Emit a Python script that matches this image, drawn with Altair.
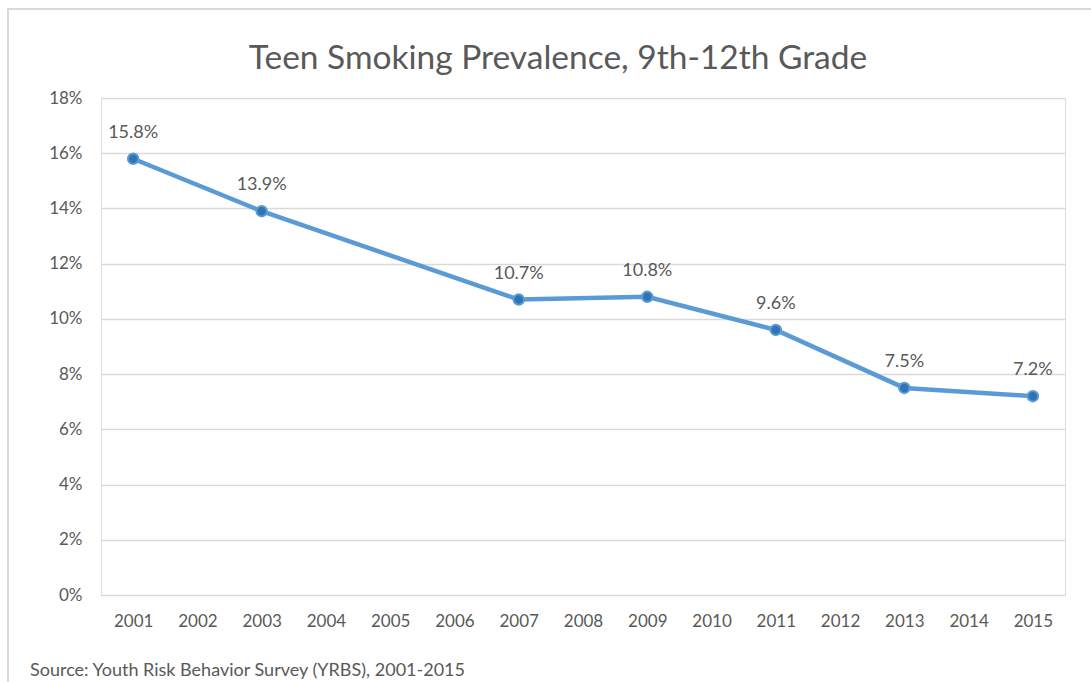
import altair as alt
import pandas as pd

title = "Teen Smoking Prevalence, 9th-12th Grade"
source = "Source: Youth Risk Behavior Survey (YRBS), 2001-2015"
all_years = [str(y) for y in range(2001, 2016)]
years = ["2001", "2003", "2007", "2009", "2011", "2013", "2015"]
prevalence = [15.8, 13.9, 10.7, 10.8, 9.6, 7.5, 7.2]
y_ticks = [0, 2, 4, 6, 8, 10, 12, 14, 16, 18]

FONT = "Lato"
TXT = "#595959"

df = pd.DataFrame({"year": years, "v": prevalence})

x = alt.X("year:O", scale=alt.Scale(domain=all_years, type="point", padding=0.5),
          axis=alt.Axis(title=None, labelAngle=0, ticks=False, domain=False, grid=False,
                        labelPadding=18, labelFontSize=17, labelColor=TXT, labelFont=FONT))
y = alt.Y("v:Q", scale=alt.Scale(domain=[0, 18], nice=False),
          axis=alt.Axis(title=None, values=y_ticks, labelExpr="datum.value + '%'",
                        ticks=False, domain=False, gridColor="#d9d9d9", gridWidth=1.5,
                        labelPadding=19, labelFontSize=17, labelColor=TXT, labelFont=FONT))

base = alt.Chart(df)
line = base.mark_line(color="#5B9BD5", strokeWidth=4.5).encode(x=x, y=y)
pts = base.mark_point(filled=True, size=110, color="#2E75B6", stroke="#5B9BD5",
                      strokeWidth=2, opacity=1).encode(x=x, y=y)
labels = base.transform_calculate(lab="format(datum.v, '.1f') + '%'").mark_text(
    baseline="bottom", dy=-17, fontSize=18, font=FONT, color=TXT
).encode(x=x, y=y, text="lab:N")

one = pd.DataFrame({"t": [source], "h": [title]})
border = alt.Chart(one).mark_rect(filled=False, stroke="#d9d9d9", strokeWidth=2).encode(
    x=alt.value(-93), y=alt.value(-89), x2=alt.value(1010), y2=alt.value(600))
ttl = alt.Chart(one).mark_text(align="center", baseline="alphabetic", fontSize=33.5,
                               font=FONT, color=TXT).encode(
    x=alt.value(457), y=alt.value(-29), text="h:N")
src = alt.Chart(one).mark_text(align="left", baseline="alphabetic", fontSize=18,
                               font=FONT, color=TXT).encode(
    x=alt.value(-71), y=alt.value(578), text="t:N")

chart = alt.layer(border, line, pts, labels, ttl, src).properties(
    width=964, height=497,
    autosize=alt.AutoSizeParams(type="none"),
    padding={"left": 101, "top": 98, "right": 26, "bottom": 87},
).configure_view(stroke=None).configure(background="white")

chart.save("out.html", embed_options={"renderer": "svg", "actions": False})
